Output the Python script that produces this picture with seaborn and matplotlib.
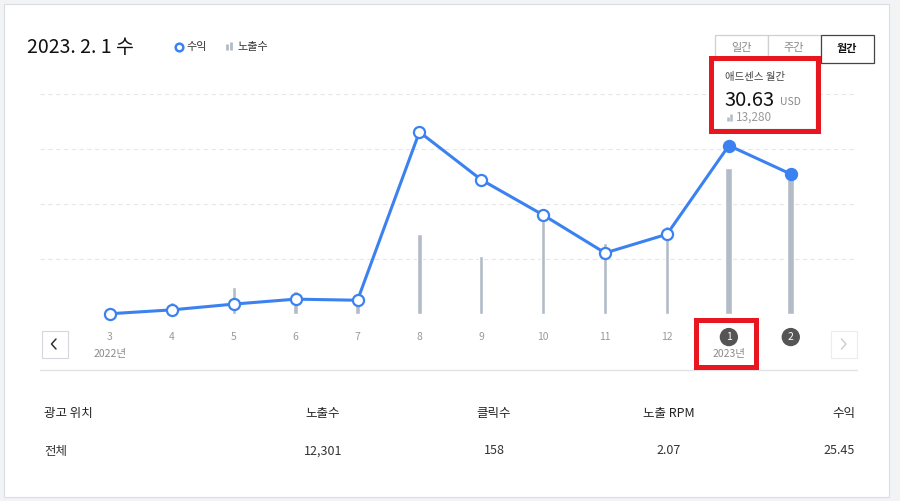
import pandas as pd
import matplotlib.pyplot as plt
import seaborn as sns
from matplotlib.patches import Rectangle, FancyBboxPatch

sns.set_style("white")
plt.rcParams["font.family"] = ["Noto Sans CJK KR", "DejaVu Sans"]

# data
months = ["3", "4", "5", "6", "7", "8", "9", "10", "11", "12", "1", "2"]
revenue = [0.05, 0.75, 1.8, 2.7, 2.5, 33.1, 24.4, 18.0, 11.1, 14.5, 30.63, 25.45]
impressions = [0, 1130, 2500, 2130, 1850, 7300, 5300, 8450, 6480, 8000, 13280, 12301]
selected = [False] * 10 + [True, True]
year_labels = {0: "2022년", 10: "2023년"}

title = "2023. 2. 1 수"
periods = ["일간", "주간", "월간"]
table_cols = ["광고 위치", "노출수", "클릭수", "노출 RPM", "수익"]
table_row = ["전체", "12,301", "158", "2.07", "25.45"]

blue = "#3b82f0"
bar_grey = "#b2bbc6"
red = "#e8161e"

df = pd.DataFrame({"idx": range(len(months)), "month": months,
                   "rev": revenue, "imp": impressions, "sel": selected})

W, H = 900, 501
fig = plt.figure(figsize=(9, 5.01), dpi=100)
fig.patch.set_facecolor("#f2f3f5")

# background card (pixel coords)
bg = fig.add_axes([0, 0, 1, 1], zorder=0)
bg.set_xlim(0, W)
bg.set_ylim(H, 0)
bg.axis("off")
bg.add_patch(Rectangle((3.5, 3.5), 885, 493, facecolor="white", edgecolor="#dcdde4", lw=0.8))

# header
bg.text(27, 47, title, fontsize=14, color="#111", va="center", ha="left")
bg.plot(179, 47, "o", mfc="white", mec=blue, ms=5.5, mew=1.8)
bg.text(186, 47, "수익", fontsize=8, color="#333", va="center")
bg.vlines([227, 231], [44, 42], [50, 50], color=bar_grey, lw=2)
bg.text(237, 47, "노출수", fontsize=8, color="#333", va="center")

# period buttons
for i, p in enumerate(periods):
    x0 = 714.5 + 53 * i
    active = i == len(periods) - 1
    bg.add_patch(Rectangle((x0, 34.5), 53, 28, facecolor="white",
                           edgecolor="#444" if active else "#cfcfd4", lw=0.9,
                           zorder=3 if active else 2))
    bg.text(x0 + 26.5, 48, p, fontsize=8, ha="center", va="center",
            color="#111" if active else "#888", fontweight="bold" if active else "normal")

# arrow buttons
bg.add_patch(Rectangle((41.5, 330.5), 26, 27, facecolor="white", edgecolor="#d6d7de", lw=0.8))
bg.plot([56, 51.5, 56], [339, 344, 349], color="#333", lw=1.1)
bg.add_patch(Rectangle((830.5, 330.5), 26, 27, facecolor="white", edgecolor="#ececf0", lw=0.8))
bg.plot([841.5, 846, 841.5], [339, 344, 349], color="#d0d0d0", lw=1.1)

# separator
bg.plot([40, 857], [369.5, 369.5], color="#e3e3e6", lw=1)

# table
col_pos = [(44, "left"), (323, "center"), (494, "center"), (669, "center"), (855, "right")]
for (x, ha), head, val in zip(col_pos, table_cols, table_row):
    bg.text(x, 414, head, fontsize=9, color="#222", ha=ha, va="center")
    bg.text(x, 451, val, fontsize=9, color="#333", ha=ha, va="center")

# chart
ax = fig.add_axes([40 / W, 1 - 314 / H, 817 / W, 220 / H], zorder=1)
ax.patch.set_alpha(0)
sns.barplot(data=df[~df.sel], x="idx", y="imp", native_scale=True, width=0.07,
            color=bar_grey, errorbar=None, ax=ax, saturation=1)
sns.barplot(data=df[df.sel], x="idx", y="imp", native_scale=True, width=0.11,
            color=bar_grey, errorbar=None, ax=ax, saturation=1)
ax.set_ylim(0, 20000)
ax.set_yticks([5000, 10000, 15000, 20000])
ax.yaxis.grid(True, color="#e6e6e8", ls=(0, (4, 3)), lw=0.8)
ax.set_axisbelow(True)

ax2 = ax.twinx()
sns.lineplot(data=df, x="idx", y="rev", ax=ax2, color=blue, lw=2.2, marker="o",
             markersize=8, markerfacecolor="white", markeredgecolor=blue,
             markeredgewidth=1.6, clip_on=False)
sns.scatterplot(data=df[df.sel], x="idx", y="rev", ax=ax2, color=blue, s=55,
                edgecolor=blue, linewidth=0, zorder=5, clip_on=False)
ax2.set_ylim(0, 40)

ax.set_xlim(-1.13, 12.07)
ax.set_xticks(range(len(months)), labels=months)
for a in (ax, ax2):
    a.set_xlabel("")
    a.set_ylabel("")
    sns.despine(ax=a, left=True, bottom=True, right=True, top=True)
    a.tick_params(axis="y", which="both", left=False, right=False,
                  labelleft=False, labelright=False, length=0)
ax.tick_params(axis="x", length=0, pad=13, labelsize=7.5, labelcolor="#9a9a9a")
for lab, sel in zip(ax.get_xticklabels(), selected):
    if sel:
        lab.set_color("white")
        lab.set_bbox(dict(boxstyle="circle,pad=0.4", fc="#555", ec="none"))
for i, lab in year_labels.items():
    ax.text(i, -0.18, lab, transform=ax.get_xaxis_transform(), fontsize=7.5,
            color="#8a8a8a", ha="center", va="center")

# tooltip and highlight boxes
fg = fig.add_axes([0, 0, 1, 1], zorder=5)
fg.set_xlim(0, W)
fg.set_ylim(H, 0)
fg.axis("off")
fg.patch.set_alpha(0)
fg.add_patch(FancyBboxPatch((713, 60), 103, 69, boxstyle="round,pad=0,rounding_size=2",
                            facecolor="white", edgecolor="#eeeeee", lw=0.8))
fg.text(725, 77, "애드센스 월간", fontsize=7.5, color="#444", va="center")
fg.text(724, 100, f"{revenue[10]:.2f}", fontsize=14.5, color="#111", va="center",
        fontweight="medium")
fg.text(780, 102, "USD", fontsize=7.5, color="#888", va="center")
fg.vlines([727.5, 731], [117, 114], [121, 121], color=bar_grey, lw=1.8)
fg.text(736, 117.5, f"{impressions[10]:,}", fontsize=8.5, color="#999", va="center")
fg.add_patch(Rectangle((711, 57.5), 106.5, 73.5, fill=False, edgecolor=red, lw=3.6))
fg.add_patch(Rectangle((695.8, 320), 60, 47, fill=False, edgecolor=red, lw=3.6))

fig.savefig("out.png", dpi=100)
